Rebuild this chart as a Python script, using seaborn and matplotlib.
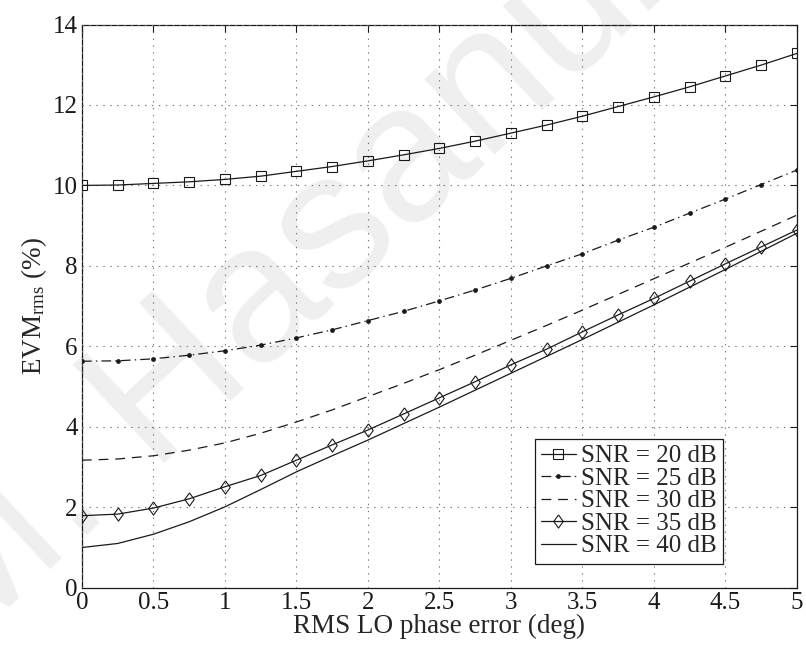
import numpy as np
import pandas as pd
import matplotlib
matplotlib.use("Agg")
import matplotlib.pyplot as plt
import seaborn as sns

# ---- data ----
phase_err = [0, 0.25, 0.5, 0.75, 1, 1.25, 1.5, 1.75, 2, 2.25, 2.5, 2.75,
             3, 3.25, 3.5, 3.75, 4, 4.25, 4.5, 4.75, 5]
snr20 = [10.00, 10.01, 10.05, 10.09, 10.15, 10.23, 10.35, 10.47, 10.61, 10.76,
         10.92, 11.10, 11.30, 11.50, 11.72, 11.96, 12.20, 12.45, 12.72, 12.99, 13.28]
snr25 = [5.63, 5.64, 5.69, 5.78, 5.89, 6.03, 6.21, 6.41, 6.64, 6.87,
         7.13, 7.40, 7.69, 8.00, 8.30, 8.64, 8.96, 9.31, 9.66, 10.02, 10.38]
snr30 = [3.17, 3.20, 3.28, 3.42, 3.60, 3.84, 4.12, 4.42, 4.75, 5.08,
         5.42, 5.78, 6.15, 6.52, 6.90, 7.29, 7.68, 8.07, 8.46, 8.86, 9.26]
snr35 = [1.79, 1.83, 1.98, 2.21, 2.51, 2.79, 3.17, 3.55, 3.92, 4.32,
         4.72, 5.12, 5.54, 5.93, 6.36, 6.78, 7.19, 7.62, 8.05, 8.47, 8.89]
snr40 = [1.00, 1.10, 1.33, 1.64, 2.01, 2.44, 2.88, 3.28, 3.67, 4.08,
         4.49, 4.91, 5.33, 5.75, 6.17, 6.60, 7.03, 7.47, 7.91, 8.36, 8.81]
labels = ["SNR = 20 dB", "SNR = 25 dB", "SNR = 30 dB", "SNR = 35 dB", "SNR = 40 dB"]
x_ticks = [0, 0.5, 1, 1.5, 2, 2.5, 3, 3.5, 4, 4.5, 5]
x_tick_labels = ["0", "0.5", "1", "1.5", "2", "2.5", "3", "3.5", "4", "4.5", "5"]
y_ticks = [0, 2, 4, 6, 8, 10, 12, 14]
x_label = "RMS LO phase error (deg)"
y_label = r"EVM$_{\mathrm{rms}}$ (%)"
watermark = "M. Hasanuzzaman"

sns.set_theme(style="white")
plt.rcParams["font.family"] = ["Liberation Serif", "DejaVu Serif"]
plt.rcParams["mathtext.fontset"] = "custom"
plt.rcParams["mathtext.rm"] = "Liberation Serif"
plt.rcParams["mathtext.it"] = "Liberation Serif:italic"
plt.rcParams["lines.scale_dashes"] = False

fig = plt.figure(figsize=(8.06, 6.5), dpi=100)
ax = fig.add_axes([0.1017, 0.0958, 0.8868, 0.8665])
ax.set_facecolor("none")

# watermark, behind everything in the axes
ax.text(-0.055, -0.011, watermark, fontsize=140, family="Liberation Sans",
        color="#efefef", rotation=43, rotation_mode="anchor",
        ha="left", va="baseline", zorder=0.1, transform=fig.transFigure,
        clip_on=False)

diamond = [(0, 1), (0.72, 0), (0, -1), (-0.72, 0), (0, 1)]
series = [snr20, snr25, snr30, snr35, snr40]
styles = [
    dict(linestyle="-", marker="s", markersize=6.5),
    dict(linestyle=(0, (7, 3, 1, 3)), marker="o", markersize=2.6, markerfacecolor="k"),
    dict(linestyle=(0, (7, 5)), marker=None),
    dict(linestyle="-", marker=diamond, markersize=9.5),
    dict(linestyle="-", marker=None),
]
for vals, lab, st in zip(series, labels, styles):
    df = pd.DataFrame({"x": phase_err, "y": vals})
    kw = dict(st)
    kw.setdefault("markerfacecolor", "none")
    sns.lineplot(data=df, x="x", y="y", ax=ax, color="k", linewidth=0.9,
                 markeredgecolor="k", markeredgewidth=0.8, label=lab,
                 zorder=3, **kw)

ax.set_xlim(0, 5)
ax.set_ylim(0, 14)
ax.set_xticks(x_ticks)
ax.set_xticklabels(x_tick_labels)
ax.set_yticks(y_ticks)
ax.grid(True, linestyle=(0, (1, 4)), color="#777777", linewidth=0.8, zorder=1)
ax.set_axisbelow(False)
ax.tick_params(direction="in", length=5, width=0.8, top=True, right=True,
               labelsize=18, colors="k")
ax.tick_params(axis="x", pad=3)
ax.tick_params(axis="y", pad=3)
for s in ax.spines.values():
    s.set_color("k")
    s.set_linewidth(0.9)
ax.set_xlabel(x_label, fontsize=19.5, labelpad=0)
ax.set_ylabel(y_label, fontsize=19.5, labelpad=3)

leg = ax.legend(loc="lower right", bbox_to_anchor=(0.8965, 0.043), fontsize=18,
                frameon=True, fancybox=False, handlelength=1.4,
                handletextpad=0.2, borderpad=0.25, labelspacing=0.0,
                borderaxespad=0)
leg.get_frame().set_edgecolor("k")
leg.get_frame().set_linewidth(0.9)
leg.get_frame().set_alpha(1)
leg.set_zorder(5)

fig.savefig("out.png", dpi=100)
